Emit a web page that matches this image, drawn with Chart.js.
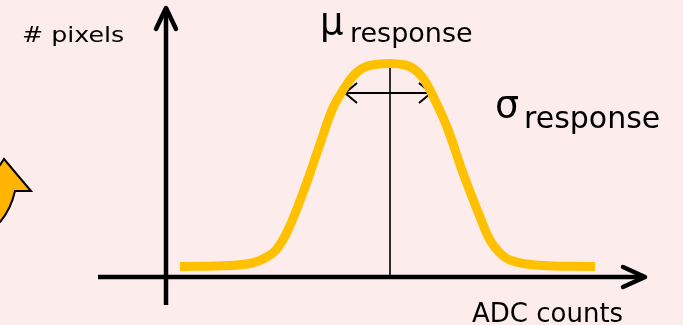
<!DOCTYPE html>
<html>
<head>
<meta charset="utf-8">
<script src="https://cdn.jsdelivr.net/npm/chart.js@4/dist/chart.umd.min.js"></script>
<style>
  html, body { margin: 0; padding: 0; background: #fdecec; }
  canvas { display: block; }
</style>
</head>
<body>
<canvas id="responseChart" width="683" height="325"></canvas>
<script>
// response curve (x: ADC counts, y: # pixels, arbitrary units)
const curveX = [14, 64, 86, 99, 110, 122, 138, 153, 166, 174, 181, 189, 197, 206, 224, 239, 248, 257, 267, 281, 297, 314, 324, 333, 344, 369, 429];
const curveY = [10.5, 11.5, 14, 19, 27, 47, 87, 130, 167, 182, 193, 203, 209, 212, 213.5, 212, 208, 199, 181, 150, 104, 60, 37, 25, 17, 12, 10.5];

// mean marker and width arrow
const meanX = [224, 224];
const meanY = [0, 213];
const sigmaX = [179, 265];
const sigmaY = [184, 184];

// axis extents
const xRange = [-68, 479];
const yRange = [-28, 269];

const yLabel = '# pixels';
const xLabel = 'ADC counts';
const muSymbol = 'μ';
const sigmaSymbol = 'σ';
const subLabel = 'response';

const toPoints = (xs, ys) => xs.map((x, i) => ({ x: x, y: ys[i] }));

const FONT = '"DejaVu Sans", Verdana, sans-serif';

const decor = {
  id: 'decor',
  beforeDraw(chart) {
    const ctx = chart.ctx;
    ctx.save();
    ctx.fillStyle = '#fdecec';
    ctx.fillRect(0, 0, chart.width, chart.height);
    ctx.restore();
  },
  beforeDatasetsDraw(chart) {
    const ctx = chart.ctx;
    const xs = chart.scales.x;
    const ys = chart.scales.y;
    const x0 = xs.getPixelForValue(0);
    const y0 = ys.getPixelForValue(0);

    ctx.save();
    // piece of an orange arrow at the left edge
    ctx.beginPath();
    ctx.moveTo(-2, 168);
    ctx.lineTo(4, 159);
    ctx.lineTo(31, 191);
    ctx.lineTo(15, 191);
    ctx.quadraticCurveTo(11, 209, 0, 222);
    ctx.lineTo(-2, 222);
    ctx.closePath();
    ctx.fillStyle = '#ffb400';
    ctx.fill();
    ctx.strokeStyle = '#000';
    ctx.lineWidth = 2;
    ctx.stroke();

    // axes with arrow heads
    ctx.strokeStyle = '#000';
    ctx.lineWidth = 4.5;
    ctx.lineCap = 'butt';
    ctx.lineJoin = 'round';
    const xa = xs.getPixelForValue(xRange[0]);
    const xb = xs.getPixelForValue(xRange[1]);
    ctx.beginPath();
    ctx.moveTo(xa, y0);
    ctx.lineTo(xb - 2, y0);
    ctx.stroke();
    ctx.lineCap = 'round';
    ctx.beginPath();
    ctx.moveTo(xb - 22, y0 - 10);
    ctx.lineTo(xb, y0);
    ctx.lineTo(xb - 22, y0 + 10);
    ctx.stroke();

    const ya = ys.getPixelForValue(yRange[0]);
    const yb = ys.getPixelForValue(yRange[1]);
    ctx.lineCap = 'butt';
    ctx.beginPath();
    ctx.moveTo(x0, ya);
    ctx.lineTo(x0, yb + 2);
    ctx.stroke();
    ctx.lineCap = 'round';
    ctx.beginPath();
    ctx.moveTo(x0 - 10, yb + 21);
    ctx.lineTo(x0, yb);
    ctx.lineTo(x0 + 10, yb + 21);
    ctx.stroke();
    ctx.restore();
  },
  afterDatasetDraw(chart, args) {
    if (chart.data.datasets[args.index].label !== 'sigma') return;
    const pts = args.meta.data;
    const ctx = chart.ctx;
    ctx.save();
    ctx.strokeStyle = '#000';
    ctx.lineWidth = 2;
    ctx.lineCap = 'butt';
    ctx.beginPath();
    const a = pts[0], b = pts[pts.length - 1];
    ctx.moveTo(a.x + 12, a.y - 10);
    ctx.lineTo(a.x, a.y);
    ctx.lineTo(a.x + 12, a.y + 10);
    ctx.moveTo(b.x - 12, b.y - 10);
    ctx.lineTo(b.x, b.y);
    ctx.lineTo(b.x - 12, b.y + 10);
    ctx.stroke();
    ctx.restore();
  },
  afterDraw(chart) {
    const ctx = chart.ctx;
    ctx.save();
    ctx.fillStyle = '#000';
    ctx.textBaseline = 'alphabetic';
    ctx.textAlign = 'left';

    ctx.save();
    ctx.translate(22, 42);
    ctx.scale(1.15, 1);
    ctx.font = '22px ' + FONT;
    ctx.fillText(yLabel, 0, 0);
    ctx.restore();

    ctx.font = '37px ' + FONT;
    ctx.fillText(muSymbol, 320, 34);
    ctx.font = '27px ' + FONT;
    ctx.fillText(subLabel, 350, 42);

    ctx.font = '38px ' + FONT;
    ctx.fillText(sigmaSymbol, 495, 117);
    ctx.font = '30px ' + FONT;
    ctx.fillText(subLabel, 524, 128);

    ctx.font = '26px ' + FONT;
    ctx.fillText(xLabel, 472, 322);
    ctx.restore();
  }
};

new Chart(document.getElementById('responseChart'), {
  type: 'scatter',
  data: {
    datasets: [
      {
        label: 'response',
        data: toPoints(curveX, curveY),
        showLine: true,
        borderColor: '#ffc000',
        borderWidth: 9,
        borderCapStyle: 'butt',
        borderJoinStyle: 'round',
        tension: 0.4,
        pointRadius: 0,
        clip: false,
        order: 0
      },
      {
        label: 'mean',
        data: toPoints(meanX, meanY),
        showLine: true,
        borderColor: '#000',
        borderWidth: 1.6,
        pointRadius: 0,
        clip: false,
        order: 2
      },
      {
        label: 'sigma',
        data: toPoints(sigmaX, sigmaY),
        showLine: true,
        borderColor: '#000',
        borderWidth: 2,
        pointRadius: 0,
        clip: false,
        order: 1
      }
    ]
  },
  options: {
    responsive: false,
    animation: false,
    devicePixelRatio: 1,
    layout: { padding: { left: 166, right: 38, top: 8, bottom: 48 } },
    scales: {
      x: { type: 'linear', min: 0, max: 479, display: false },
      y: { type: 'linear', min: 0, max: 269, display: false }
    },
    plugins: {
      legend: { display: false },
      tooltip: { enabled: false }
    }
  },
  plugins: [decor]
});
</script>
</body>
</html>
